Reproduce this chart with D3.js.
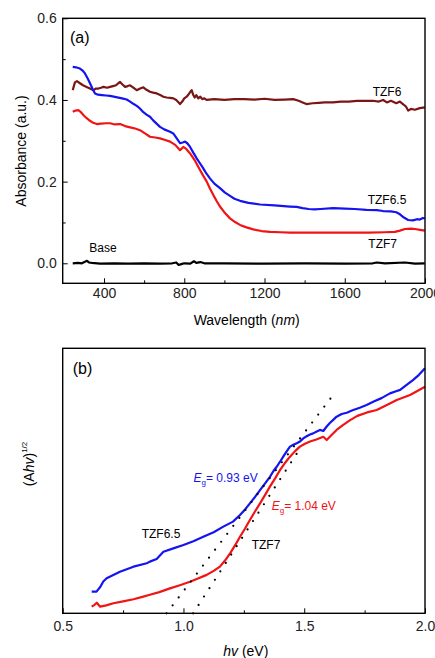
<!DOCTYPE html>
<html>
<head>
<meta charset="utf-8">
<script src="https://cdn.jsdelivr.net/npm/d3@7"></script>
<style>
  body { margin: 0; background: #fff; }
  svg { font-family: "Liberation Sans", Arial, sans-serif; }
</style>
</head>
<body>
<svg width="435" height="658"></svg>
<script>
// panel (a): absorbance vs wavelength (nm)
const tzf6 = [[244,0.424],[255,0.443],[265,0.446],[280,0.441],[295,0.436],[313,0.432],[330,0.428],[347,0.424],[360,0.428],[372,0.428],[385,0.430],[397,0.432],[415,0.430],[430,0.432],[445,0.434],[460,0.436],[471,0.441],[480,0.444],[492,0.438],[505,0.432],[518,0.434],[530,0.436],[546,0.430],[563,0.424],[580,0.428],[596,0.431],[612,0.425],[629,0.420],[645,0.418],[663,0.416],[680,0.412],[696,0.408],[712,0.406],[730,0.405],[746,0.404],[760,0.400],[772,0.394],[779,0.390],[790,0.396],[800,0.404],[812,0.408],[822,0.414],[830,0.420],[837,0.424],[845,0.412],[852,0.406],[860,0.412],[870,0.404],[880,0.408],[890,0.402],[900,0.404],[911,0.400],[950,0.402],[1000,0.400],[1050,0.402],[1100,0.402],[1150,0.401],[1200,0.403],[1250,0.400],[1300,0.401],[1343,0.402],[1370,0.398],[1390,0.394],[1409,0.390],[1440,0.392],[1470,0.393],[1500,0.394],[1542,0.394],[1580,0.396],[1620,0.396],[1660,0.398],[1708,0.398],[1740,0.398],[1770,0.396],[1791,0.400],[1810,0.394],[1830,0.398],[1857,0.392],[1875,0.396],[1890,0.390],[1905,0.384],[1916,0.374],[1930,0.378],[1950,0.376],[1974,0.380],[1999,0.382]];

const tzf65 = [[244,0.481],[260,0.480],[280,0.477],[295,0.471],[305,0.465],[318,0.453],[330,0.441],[342,0.428],[355,0.416],[370,0.413],[390,0.412],[410,0.411],[430,0.410],[460,0.407],[490,0.404],[513,0.401],[530,0.396],[548,0.390],[565,0.385],[579,0.379],[596,0.370],[612,0.364],[629,0.359],[645,0.350],[662,0.342],[679,0.334],[700,0.328],[729,0.322],[745,0.318],[760,0.308],[779,0.294],[792,0.296],[804,0.298],[815,0.294],[829,0.285],[845,0.271],[862,0.257],[878,0.245],[894,0.233],[910,0.220],[928,0.208],[950,0.195],[978,0.184],[1003,0.173],[1028,0.165],[1050,0.158],[1078,0.153],[1120,0.148],[1178,0.144],[1250,0.142],[1327,0.139],[1360,0.138],[1390,0.135],[1420,0.133],[1450,0.132],[1480,0.133],[1542,0.135],[1600,0.134],[1650,0.133],[1708,0.131],[1760,0.130],[1791,0.128],[1830,0.127],[1857,0.125],[1875,0.120],[1895,0.112],[1916,0.106],[1940,0.105],[1960,0.108],[1974,0.107],[1990,0.111],[1999,0.110]];

const tzf7 = [[244,0.371],[258,0.374],[272,0.375],[285,0.370],[297,0.363],[312,0.356],[330,0.349],[346,0.344],[364,0.341],[385,0.342],[410,0.343],[430,0.343],[455,0.340],[480,0.341],[505,0.336],[530,0.333],[555,0.330],[579,0.326],[604,0.318],[629,0.310],[655,0.308],[679,0.306],[705,0.302],[729,0.298],[755,0.290],[779,0.277],[795,0.285],[810,0.280],[829,0.269],[855,0.250],[879,0.228],[895,0.214],[912,0.200],[928,0.183],[945,0.167],[962,0.152],[978,0.139],[1003,0.123],[1028,0.110],[1053,0.101],[1078,0.094],[1110,0.088],[1144,0.083],[1185,0.079],[1228,0.077],[1280,0.076],[1327,0.075],[1400,0.075],[1480,0.075],[1560,0.075],[1640,0.075],[1720,0.075],[1800,0.076],[1850,0.077],[1875,0.080],[1900,0.084],[1930,0.085],[1950,0.084],[1975,0.082],[1999,0.080]];

const base = [[244,0.000],[270,0.001],[290,0.000],[305,0.004],[315,0.006],[325,0.002],[340,0.001],[380,-0.001],[450,0.000],[520,-0.001],[600,0.000],[680,-0.001],[740,0.000],[760,0.002],[772,-0.004],[785,-0.002],[800,0.000],[830,-0.001],[848,0.005],[860,0.001],[880,0.003],[900,0.000],[1000,0.000],[1200,-0.001],[1400,0.000],[1600,-0.001],[1740,0.000],[1760,0.002],[1800,0.000],[1900,0.002],[1950,-0.001],[1999,0.000]];

// panel (b): (Ahv)^1/2 vs hv (eV), arbitrary units
const tauc65 = [[0.62,0.082],[0.64,0.082],[0.656,0.100],[0.668,0.120],[0.682,0.132],[0.737,0.157],[0.793,0.176],[0.848,0.189],[0.861,0.195],[0.889,0.205],[0.917,0.232],[0.958,0.245],[1.000,0.258],[1.041,0.272],[1.082,0.289],[1.125,0.306],[1.165,0.327],[1.205,0.346],[1.234,0.371],[1.255,0.392],[1.275,0.415],[1.297,0.440],[1.317,0.465],[1.338,0.490],[1.358,0.515],[1.372,0.536],[1.386,0.553],[1.400,0.572],[1.413,0.591],[1.428,0.612],[1.441,0.629],[1.455,0.636],[1.469,0.642],[1.482,0.648],[1.496,0.660],[1.510,0.668],[1.524,0.675],[1.537,0.679],[1.550,0.685],[1.565,0.692],[1.579,0.688],[1.593,0.705],[1.606,0.718],[1.620,0.730],[1.634,0.742],[1.655,0.752],[1.676,0.757],[1.700,0.766],[1.730,0.776],[1.758,0.786],[1.790,0.800],[1.820,0.812],[1.855,0.830],[1.880,0.838],[1.897,0.843],[1.924,0.862],[1.950,0.880],[1.975,0.900],[2.000,0.925]];

const tauc7 = [[0.62,0.025],[0.632,0.032],[0.641,0.040],[0.655,0.025],[0.680,0.030],[0.710,0.038],[0.750,0.045],[0.793,0.053],[0.830,0.062],[0.861,0.070],[0.900,0.080],[0.944,0.094],[0.985,0.106],[1.027,0.119],[1.060,0.131],[1.096,0.145],[1.125,0.160],[1.151,0.176],[1.172,0.199],[1.193,0.226],[1.214,0.257],[1.234,0.289],[1.255,0.320],[1.275,0.352],[1.296,0.384],[1.317,0.415],[1.338,0.447],[1.358,0.478],[1.380,0.510],[1.400,0.541],[1.420,0.567],[1.441,0.591],[1.462,0.612],[1.482,0.629],[1.503,0.640],[1.524,0.648],[1.550,0.656],[1.579,0.666],[1.593,0.654],[1.612,0.672],[1.634,0.692],[1.660,0.710],[1.690,0.729],[1.720,0.745],[1.760,0.758],[1.800,0.767],[1.840,0.785],[1.883,0.805],[1.938,0.824],[1.970,0.840],[2.000,0.855]];

// tangent lines (extrapolated to the baseline at Eg)
const fit65 = [[0.93,0.0],[1.62,0.824]];
const fit7 = [[1.04,0.0],[1.47,0.604]];

const xTicksA = [400, 800, 1200, 1600, 2000];
const xMinorA = [600, 1000, 1400, 1800];
const yTicksA = [0.0, 0.2, 0.4, 0.6];
const yMinorA = [0.1, 0.3, 0.5];
const xTicksB = [0.5, 1.0, 1.5, 2.0];
const xMinorB = [0.75, 1.25, 1.75];

const svg = d3.select("svg");
const left = 62.7, right = 425;

const colors = { tzf6: "#7a1616", tzf65: "#1414f0", tzf7: "#f01414", base: "#000" };

// ---------- panel (a)
const xa = d3.scaleLinear().domain([194, 2000]).range([left, right]);
const ya = d3.scaleLinear().domain([-0.049, 0.6]).range([283.3, 18.3]);

const ga = svg.append("g");

ga.append("g")
    .attr("transform", "translate(0,283.3)")
    .call(d3.axisBottom(xa).tickValues(xTicksA).tickSize(-5).tickPadding(5).tickFormat(d3.format("d")))
    .call(g => g.select(".domain").remove());
ga.append("g")
    .attr("transform", "translate(0,283.3)")
    .call(d3.axisBottom(xa).tickValues(xMinorA).tickSize(-3).tickFormat(""))
    .call(g => g.select(".domain").remove());
ga.append("g")
    .attr("transform", `translate(${left},0)`)
    .call(d3.axisLeft(ya).tickValues(yTicksA).tickSize(-5).tickPadding(6).tickFormat(d3.format(".1f")))
    .call(g => g.select(".domain").remove());
ga.append("g")
    .attr("transform", `translate(${left},0)`)
    .call(d3.axisLeft(ya).tickValues(yMinorA).tickSize(-3).tickFormat(""))
    .call(g => g.select(".domain").remove());

const lineA = d3.line().x(d => xa(d[0])).y(d => ya(d[1]));
[[tzf6, colors.tzf6], [tzf7, colors.tzf7], [tzf65, colors.tzf65], [base, colors.base]].forEach(([data, c]) => {
    ga.append("path")
        .datum(data)
        .attr("d", lineA)
        .attr("fill", "none")
        .attr("stroke", c)
        .attr("stroke-width", 2.2)
        .attr("stroke-linejoin", "round");
});

ga.append("rect")
    .attr("x", left).attr("y", 18.3)
    .attr("width", right - left).attr("height", 283.3 - 18.3)
    .attr("fill", "none").attr("stroke", "#000").attr("stroke-width", 1.4);

ga.append("text").attr("x", 70).attr("y", 42.7).attr("font-size", 16).text("(a)");
ga.append("text").attr("x", 372.7).attr("y", 95.7).attr("font-size", 12).text("TZF6");
ga.append("text").attr("x", 367.7).attr("y", 204).attr("font-size", 12).text("TZF6.5");
ga.append("text").attr("x", 368.3).attr("y", 247.7).attr("font-size", 12).text("TZF7");
ga.append("text").attr("x", 89.3).attr("y", 251.7).attr("font-size", 12).text("Base");

ga.append("text")
    .attr("transform", "translate(25.5,151) rotate(-90)")
    .attr("text-anchor", "middle").attr("font-size", 14)
    .text("Absorbance (a.u.)");
const xlabA = ga.append("text")
    .attr("x", 246.7).attr("y", 325).attr("text-anchor", "middle").attr("font-size", 14);
xlabA.append("tspan").text("Wavelength (");
xlabA.append("tspan").attr("font-style", "italic").text("nm");
xlabA.append("tspan").text(")");

// ---------- panel (b)
const xb = d3.scaleLinear().domain([0.5, 2.0]).range([left, right]);
const yb = d3.scaleLinear().domain([0, 1]).range([613.3, 348.3]);

const gb = svg.append("g");

gb.append("g")
    .attr("transform", "translate(0,613.3)")
    .call(d3.axisBottom(xb).tickValues(xTicksB).tickSize(-5).tickPadding(8).tickFormat(d3.format(".1f")))
    .call(g => g.select(".domain").remove());
gb.append("g")
    .attr("transform", "translate(0,613.3)")
    .call(d3.axisBottom(xb).tickValues(xMinorB).tickSize(-3).tickFormat(""))
    .call(g => g.select(".domain").remove());

const lineB = d3.line().x(d => xb(d[0])).y(d => yb(d[1]));
[[tauc7, colors.tzf7], [tauc65, colors.tzf65]].forEach(([data, c]) => {
    gb.append("path")
        .datum(data)
        .attr("d", lineB)
        .attr("fill", "none")
        .attr("stroke", c)
        .attr("stroke-width", 2.2)
        .attr("stroke-linejoin", "round");
});
[fit65, fit7].forEach(data => {
    gb.append("path")
        .datum(data)
        .attr("d", lineB)
        .attr("fill", "none")
        .attr("stroke", "#000")
        .attr("stroke-width", 2.2)
        .attr("stroke-linecap", "round")
        .attr("stroke-dasharray", "0 10");
});

gb.append("rect")
    .attr("x", left).attr("y", 348.3)
    .attr("width", right - left).attr("height", 613.3 - 348.3)
    .attr("fill", "none").attr("stroke", "#000").attr("stroke-width", 1.4);

svg.selectAll(".tick text").attr("font-size", 14).attr("font-family", "Liberation Sans, Arial, sans-serif").attr("fill", "#222");

gb.append("text").attr("x", 72.7).attr("y", 374).attr("font-size", 16).text("(b)");
gb.append("text").attr("x", 141.7).attr("y", 538).attr("font-size", 12).text("TZF6.5");
gb.append("text").attr("x", 251.7).attr("y", 549).attr("font-size", 12).text("TZF7");

function egLabel(x, y, c, val) {
    const t = gb.append("text").attr("x", x).attr("y", y).attr("font-size", 12).attr("fill", c);
    t.append("tspan").attr("font-style", "italic").text("E");
    t.append("tspan").attr("font-size", 8).attr("dy", 3).text("g");
    t.append("tspan").attr("dy", -3).text("= " + val + " eV");
}
egLabel(193.5, 481.7, colors.tzf65, "0.93");
egLabel(271.7, 510, colors.tzf7, "1.04");

const ylabB = gb.append("text")
    .attr("transform", "translate(34,464) rotate(-90)")
    .attr("text-anchor", "middle").attr("font-size", 14);
ylabB.append("tspan").text("(A");
ylabB.append("tspan").attr("font-style", "italic").text("hv");
ylabB.append("tspan").text(")");
ylabB.append("tspan").attr("font-size", 8).attr("dy", -7).text("1/2");

const xlabB = gb.append("text")
    .attr("x", 245.8).attr("y", 656).attr("text-anchor", "middle").attr("font-size", 14);
xlabB.append("tspan").attr("font-style", "italic").text("hv");
xlabB.append("tspan").text(" (eV)");
</script>
</body>
</html>
